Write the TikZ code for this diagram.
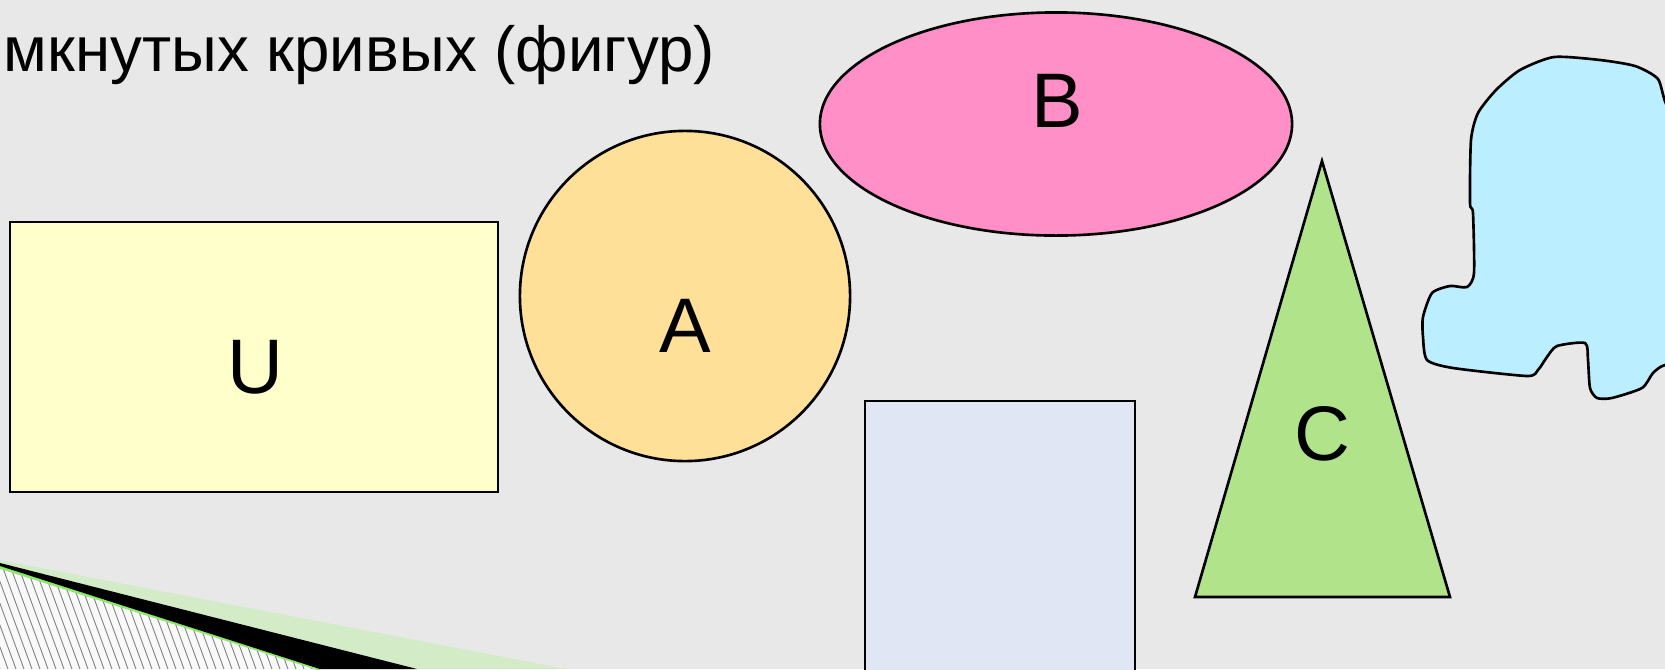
\documentclass[tikz,border=0pt]{standalone}
\usepackage{fontspec}
\setmainfont{Liberation Sans}
\usetikzlibrary{shapes.geometric}
\definecolor{bggray}{HTML}{E8E8E8}
\definecolor{paleyellow}{HTML}{FFFFCC}
\definecolor{paleorange}{HTML}{FFE099}
\definecolor{pinkish}{HTML}{FF8FC6}
\definecolor{palegreen}{HTML}{B0E38A}
\definecolor{paleblue}{HTML}{E0E6F4}
\definecolor{palecyan}{HTML}{BBEEFF}
\definecolor{bandgreen}{HTML}{D3EBC6}

\begin{document}
\begin{tikzpicture}[x=0.01cm, y=-0.01cm]
    \tikzstyle{shape_style} = [draw=black, line width=0.75pt, inner sep=0pt]
    \tikzstyle{label_style} = [font=\fontsize{22}{26}\selectfont, anchor=base, inner sep=0pt]
    \tikzstyle{title_style} = [font=\fontsize{18.1}{22}\selectfont, anchor=base west, inner sep=0pt]

    \useasboundingbox (0,0) rectangle (1665,669);
    \clip (0,0) rectangle (1665,669);
    \fill[bggray] (0,0) rectangle (1665,669);

    % corner decoration
    \begin{scope}
      \fill[bandgreen] (0,560) -- (566,669) -- (0,669) -- cycle;
      \fill[white!95!gray] (0,567) -- (320,669) -- (0,669) -- cycle;
      \clip (0,567) -- (320,669) -- (0,669) -- cycle;
      \foreach \i in {-60,...,45}
        \draw[gray, line width=0.25pt] (\i*8,560) -- (\i*8+40,669);
    \end{scope}
    \draw[palegreen!80!green, line width=1pt] (0,567) -- (320,669);
    \fill[black] (0,563) -- (417,669) -- (320,669) -- (0,566) -- cycle;

    \node[title_style] (title) at (3,71) {мкнутых кривых (фигур)};

    \node[shape_style, rectangle, fill=paleyellow, minimum width=4.88cm, minimum height=2.70cm] (U) at (254,357) {};
    \node[label_style] (Ulabel) at (255,393) {U};

    \node[shape_style, circle, fill=paleorange, minimum size=3.30cm] (A) at (685,296) {};
    \node[label_style] (Alabel) at (685,352) {A};

    \node[shape_style, ellipse, fill=pinkish, minimum width=4.72cm, minimum height=2.23cm] (B) at (1056,124) {};
    \node[label_style] (Blabel) at (1057,127) {B};

    \coordinate (Ctop) at (1322,161);
    \coordinate (Cleft) at (1195,597);
    \coordinate (Cright) at (1450,597);
    \filldraw[fill=palegreen, draw=black, line width=0.75pt] (Ctop) -- (Cright) -- (Cleft) -- cycle;
    \node[label_style] (Clabel) at (1322,460) {C};

    \filldraw[fill=paleblue, draw=black, line width=0.75pt] (865,401) rectangle (1135,700);

    \filldraw[fill=palecyan, draw=black, line width=0.75pt] plot[smooth cycle, tension=0.4] coordinates {
      (1554,57) (1600,60) (1635,66) (1658,79) (1668,107) (1700,120) (1700,360)
      (1665,365) (1653,373) (1642,388) (1612,398) (1597,398) (1590,388) (1588,360)
      (1585,343) (1557,346) (1547,357) (1538,370) (1527,376) (1453,368) (1427,360)
      (1423,337) (1423,317) (1432,293) (1450,286) (1467,287) (1474,273) (1473,213)
      (1470,203) (1471,140) (1478,113) (1496,90) (1520,70)};
\end{tikzpicture}
\end{document}
